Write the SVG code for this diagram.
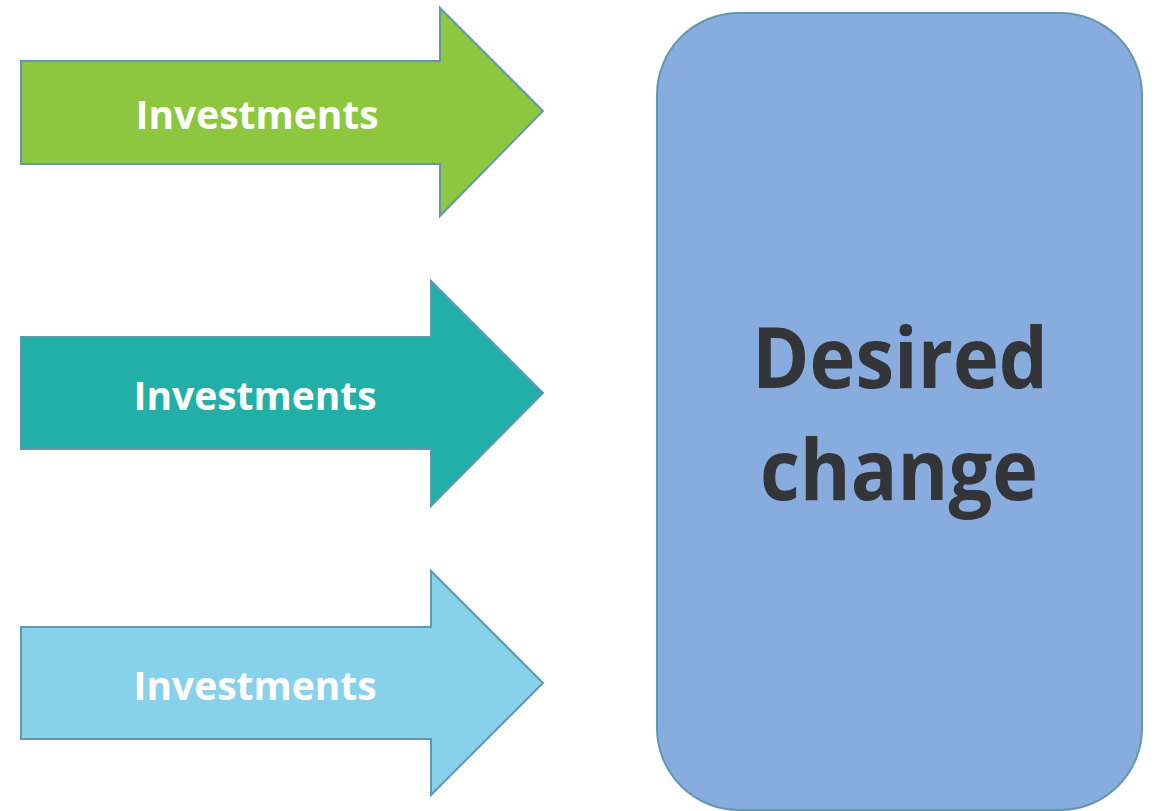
<svg xmlns="http://www.w3.org/2000/svg" width="1155" height="811" viewBox="0 0 1155 811">
  <style>
    .arrow { stroke: #6198AE; stroke-width: 2; stroke-linejoin: miter; }
    .lbl { font-family: "Open Sans", "Liberation Sans", sans-serif; font-weight: bold; font-size: 40px; fill: #FFFFFF; text-anchor: middle; }
    .big { font-family: "Open Sans", "Liberation Sans", sans-serif; font-weight: bold; font-size: 85px; fill: #333539; text-anchor: middle; }
  </style>
  <rect width="1155" height="811" fill="#FFFFFF"/>

  <g id="arrow-1">
    <polygon class="arrow" fill="#8DC63F" points="21,61 440,61 440,8 543,111 440,216 440,164 21,164"/>
    <text class="lbl" x="257" y="129" textLength="243" lengthAdjust="spacingAndGlyphs">Investments</text>
  </g>

  <g id="arrow-2">
    <polygon class="arrow" fill="#21AFA7" points="21,337 431,337 431,281 543,393 431,506 431,449 21,449"/>
    <text class="lbl" x="255" y="410" textLength="243" lengthAdjust="spacingAndGlyphs">Investments</text>
  </g>

  <g id="arrow-3">
    <polygon class="arrow" fill="#87D1EA" points="21,627 431,627 431,571 543,683 431,795 431,739 21,739"/>
    <text class="lbl" x="255" y="700" textLength="243" lengthAdjust="spacingAndGlyphs">Investments</text>
  </g>

  <g id="desired-change">
    <rect x="657" y="13" width="485" height="797" rx="82" ry="82" fill="#89ACDF" stroke="#6198AE" stroke-width="2"/>
    <text class="big" x="900" y="388" textLength="296" lengthAdjust="spacingAndGlyphs">Desired</text>
    <text class="big" x="899" y="500" textLength="278" lengthAdjust="spacingAndGlyphs">change</text>
  </g>

  <g id="connectors"></g>
</svg>
